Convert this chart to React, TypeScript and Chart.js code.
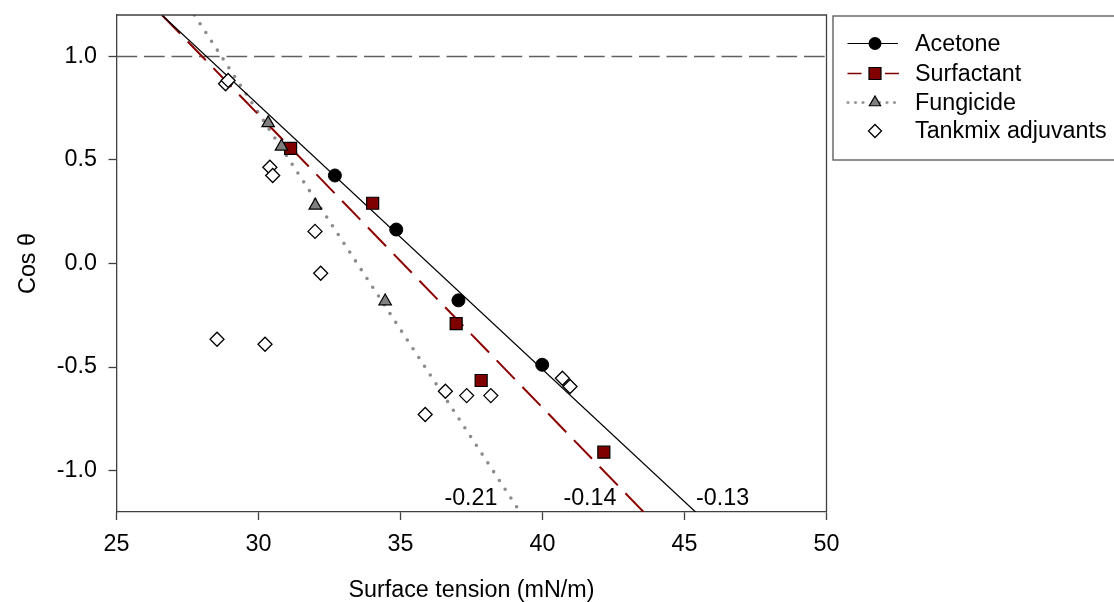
import React, { useEffect, useRef } from 'react';
import { Chart, registerables } from 'chart.js';

Chart.register(...registerables);

// ---- data ----
const xTicks = [25, 30, 35, 40, 45, 50];
const yTicks = [-1.0, -0.5, 0.0, 0.5, 1.0];

const acetoneX = [32.69, 34.85, 37.04, 39.99];
const acetoneY = [0.425, 0.164, -0.178, -0.489];

const surfactantX = [31.13, 34.02, 36.96, 37.84, 42.16];
const surfactantY = [0.556, 0.291, -0.29, -0.565, -0.911];

const fungicideX = [30.34, 30.81, 32.0, 34.46];
const fungicideY = [0.678, 0.565, 0.28, -0.182];

const tankmixX = [28.84, 28.93, 30.4, 30.5, 31.99, 32.19, 28.54, 30.23, 36.58, 35.87, 37.33, 38.18, 40.7, 40.97];
const tankmixY = [0.868, 0.884, 0.465, 0.425, 0.155, -0.047, -0.366, -0.39, -0.617, -0.729, -0.638, -0.638, -0.554, -0.594];

// fitted regression lines (end points read where they leave the frame)
const acetoneFitX = [26.6, 45.39];
const acetoneFitY = [1.2, -1.2];
const surfactantFitX = [26.6, 43.56];
const surfactantFitY = [1.2, -1.2];
const fungicideFitX = [27.74, 39.21];
const fungicideFitY = [1.2, -1.2];

const refLineX = [25, 50];
const refLineY = [1.0, 1.0];

const slopeLabels = ['-0.21', '-0.14', '-0.13'];
const slopeLabelX = [37.48, 41.67, 46.34];
const slopeLabelY = [-1.137, -1.137, -1.137];

const legendLabels = ['Acetone', 'Surfactant', 'Fungicide', 'Tankmix adjuvants'];

const FONT = "'Liberation Sans', Arial, Helvetica, sans-serif";
const FS = 23.3;
const DARK_RED = '#800000';
const GREY = '#808080';

const pts = (xs: number[], ys: number[]) => xs.map((x, i) => ({ x, y: ys[i] }));

function drawMarker(ctx: CanvasRenderingContext2D, kind: string, x: number, y: number) {
  ctx.save();
  ctx.beginPath();
  if (kind === 'circle') {
    ctx.arc(x, y, 6.5, 0, Math.PI * 2);
    ctx.fillStyle = '#000';
    ctx.fill();
  } else if (kind === 'rect') {
    const h = 6;
    ctx.rect(x - h, y - h, 2 * h, 2 * h);
    ctx.fillStyle = DARK_RED;
    ctx.fill();
    ctx.lineWidth = 1.2;
    ctx.strokeStyle = '#000';
    ctx.stroke();
  } else if (kind === 'triangle') {
    const r = 6.5;
    ctx.moveTo(x, y - r);
    ctx.lineTo(x + r * 0.866, y + r / 2);
    ctx.lineTo(x - r * 0.866, y + r / 2);
    ctx.closePath();
    ctx.fillStyle = GREY;
    ctx.fill();
    ctx.lineWidth = 1.2;
    ctx.strokeStyle = '#000';
    ctx.stroke();
  } else {
    const r = 6.5;
    ctx.moveTo(x - r, y);
    ctx.lineTo(x, y - r);
    ctx.lineTo(x + r, y);
    ctx.lineTo(x, y + r);
    ctx.closePath();
    ctx.fillStyle = '#fff';
    ctx.fill();
    ctx.lineWidth = 1.3;
    ctx.strokeStyle = '#000';
    ctx.stroke();
  }
  ctx.restore();
}

const extrasPlugin = {
  id: 'extras',
  afterDatasetsDraw(chart: any) {
    const { ctx, scales } = chart;
    ctx.save();
    ctx.fillStyle = '#000';
    ctx.font = `${FS}px ${FONT}`;
    ctx.textAlign = 'center';
    ctx.textBaseline = 'middle';
    slopeLabels.forEach((t, i) => {
      ctx.fillText(t, scales.x.getPixelForValue(slopeLabelX[i]), scales.y.getPixelForValue(slopeLabelY[i]));
    });
    ctx.restore();
  },
  afterDraw(chart: any) {
    const { ctx, chartArea: a } = chart;
    ctx.save();
    // frame top & right
    ctx.strokeStyle = '#404040';
    ctx.lineWidth = 1.3;
    ctx.beginPath();
    ctx.moveTo(a.left, a.top);
    ctx.lineTo(a.right, a.top);
    ctx.lineTo(a.right, a.bottom);
    ctx.stroke();

    // legend box
    const bx = a.right + 6.5;
    const by = 16;
    ctx.strokeStyle = '#555';
    ctx.lineWidth = 1.3;
    ctx.strokeRect(bx, by, 400, 144);

    const rows = [43.5, 73.5, 102.5, 131];
    const lx0 = 847.5;
    const lx1 = 898;
    const mx = 875;

    // Acetone: solid line
    ctx.strokeStyle = '#000';
    ctx.lineWidth = 1.2;
    ctx.beginPath();
    ctx.moveTo(lx0, rows[0]);
    ctx.lineTo(lx1, rows[0]);
    ctx.stroke();
    drawMarker(ctx, 'circle', mx, rows[0]);

    // Surfactant: dashes
    ctx.strokeStyle = DARK_RED;
    ctx.lineWidth = 1.6;
    ctx.beginPath();
    ctx.moveTo(847.5, rows[1]);
    ctx.lineTo(861.5, rows[1]);
    ctx.moveTo(885, rows[1]);
    ctx.lineTo(899, rows[1]);
    ctx.stroke();
    drawMarker(ctx, 'rect', mx, rows[1]);

    // Fungicide: dots
    ctx.fillStyle = '#999';
    [848, 855.5, 863, 879.5, 887, 894.5].forEach((dx) => {
      ctx.beginPath();
      ctx.arc(dx, rows[2], 1.6, 0, Math.PI * 2);
      ctx.fill();
    });
    drawMarker(ctx, 'triangle', mx, rows[2]);

    // Tankmix: diamond only
    drawMarker(ctx, 'diamond', mx, rows[3]);

    ctx.fillStyle = '#000';
    ctx.font = `${FS}px ${FONT}`;
    ctx.textAlign = 'left';
    ctx.textBaseline = 'middle';
    legendLabels.forEach((t, i) => ctx.fillText(t, 915, rows[i] + 1));
    ctx.restore();
  },
};

export default function App() {
  const ref = useRef<HTMLCanvasElement | null>(null);

  useEffect(() => {
    if (!ref.current) return;
    Chart.defaults.font.family = FONT;
    const chart = new Chart(ref.current, {
      type: 'scatter',
      data: {
        datasets: [
          {
            label: 'Tankmix adjuvants',
            data: pts(tankmixX, tankmixY),
            pointStyle: 'rectRot',
            pointRadius: 7,
            pointBackgroundColor: '#fff',
            pointBorderColor: '#000',
            pointBorderWidth: 1.3,
          },
          {
            label: 'Fungicide',
            data: pts(fungicideX, fungicideY),
            pointStyle: 'triangle',
            pointRadius: 7.2,
            pointBackgroundColor: GREY,
            pointBorderColor: '#000',
            pointBorderWidth: 1.2,
          },
          {
            label: 'Surfactant',
            data: pts(surfactantX, surfactantY),
            pointStyle: 'rect',
            pointRadius: 8.5,
            pointBackgroundColor: DARK_RED,
            pointBorderColor: '#000',
            pointBorderWidth: 1.2,
          },
          {
            label: 'Acetone',
            data: pts(acetoneX, acetoneY),
            pointStyle: 'circle',
            pointRadius: 6.5,
            pointBackgroundColor: '#000',
            pointBorderColor: '#000',
            pointBorderWidth: 1,
          },
          {
            label: 'Acetone fit',
            data: pts(acetoneFitX, acetoneFitY),
            showLine: true,
            pointRadius: 0,
            borderColor: '#000',
            borderWidth: 1.2,
          },
          {
            label: 'Surfactant fit',
            data: pts(surfactantFitX, surfactantFitY),
            showLine: true,
            pointRadius: 0,
            borderColor: '#8b0000',
            borderWidth: 2,
            borderDash: [26, 11],
          },
          {
            label: 'Fungicide fit',
            data: pts(fungicideFitX, fungicideFitY),
            showLine: true,
            pointRadius: 0,
            borderColor: '#8c8c8c',
            borderWidth: 3.6,
            borderCapStyle: 'round',
            borderDash: [0, 10.5],
          },
          {
            label: 'Reference',
            data: pts(refLineX, refLineY),
            showLine: true,
            pointRadius: 0,
            borderColor: '#606060',
            borderWidth: 1.5,
            borderDash: [20.7, 6.8],
          },
        ],
      } as any,
      options: {
        responsive: false,
        animation: false,
        events: [],
        layout: { padding: { left: 0, right: 287.5, top: 15, bottom: 0 } },
        plugins: {
          legend: { display: false },
          tooltip: { enabled: false },
        },
        scales: {
          x: {
            type: 'linear',
            min: 25,
            max: 50,
            afterBuildTicks: (s: any) => {
              s.ticks = xTicks.map((v) => ({ value: v }));
            },
            afterFit: (s: any) => {
              s.height = 90;
              s.paddingLeft = 0;
              s.paddingRight = 0;
            },
            grid: {
              drawOnChartArea: false,
              drawTicks: true,
              tickLength: 8,
              tickColor: '#404040',
              tickWidth: 1.3,
            },
            border: { color: '#404040', width: 1.3 },
            ticks: {
              color: '#000',
              padding: 11,
              maxRotation: 0,
              font: { size: FS, family: FONT },
              callback: (v: any) => String(v),
            },
            title: {
              display: true,
              text: 'Surface tension (mN/m)',
              color: '#000',
              font: { size: FS, family: FONT, lineHeight: 1 },
              padding: { top: 0, bottom: 0 },
            },
          },
          y: {
            type: 'linear',
            min: -1.2,
            max: 1.2,
            afterBuildTicks: (s: any) => {
              s.ticks = yTicks.map((v) => ({ value: v }));
            },
            afterFit: (s: any) => {
              s.width = 116.5;
              s.paddingTop = 0;
              s.paddingBottom = 0;
            },
            grid: {
              drawOnChartArea: false,
              drawTicks: true,
              tickLength: 8,
              tickColor: '#404040',
              tickWidth: 1.3,
            },
            border: { color: '#404040', width: 1.3 },
            ticks: {
              color: '#000',
              padding: 11.5,
              font: { size: FS, family: FONT },
              callback: (v: any) => Number(v).toFixed(1),
            },
            title: {
              display: true,
              text: 'Cos θ',
              color: '#000',
              font: { size: FS, family: FONT, lineHeight: 1 },
              padding: { top: 16.5, bottom: 0 },
            },
          },
        },
      },
      plugins: [extrasPlugin],
    } as any);
    return () => chart.destroy();
  }, []);

  return (
    <div style={{ position: 'fixed', left: 0, top: 0, width: 1114, height: 602, background: '#fff' }}>
      <canvas ref={ref} width={1114} height={602} style={{ display: 'block', width: 1114, height: 602 }} />
    </div>
  );
}
